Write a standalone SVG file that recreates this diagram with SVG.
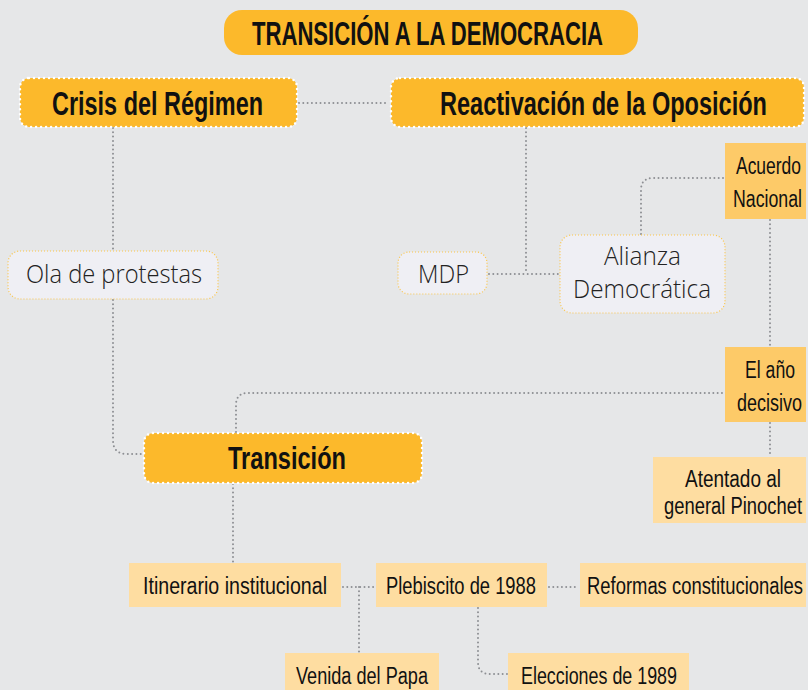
<svg xmlns="http://www.w3.org/2000/svg" width="808" height="690" viewBox="0 0 808 690">
<style>
.bg{fill:#e6e7e8}
.main{fill:#fcb92b;stroke:#ffffff;stroke-width:2.5;stroke-dasharray:0 5;stroke-linecap:round}
.title{fill:#fcb92b}
.soft{fill:#efeff4;stroke:#fcc649;stroke-width:1.2;stroke-dasharray:1 2}
.mid{fill:#fdca68}
.light{fill:#fedda1}
.con{fill:none;stroke:#8d8f93;stroke-width:2;stroke-dasharray:0 4.3;stroke-linecap:round}
.tb{font-family:"Liberation Sans Narrow","Liberation Sans",Arial,sans-serif;font-weight:bold;fill:#111}
.tn{font-family:"Liberation Sans Narrow","Liberation Sans",Arial,sans-serif;fill:#111}
.tl{font-family:"Open Sans","Liberation Sans",sans-serif;font-weight:300;fill:#222}
</style>
<rect class="bg" x="0" y="0" width="808" height="690"/>

<g id="connectors">
<path class="con" d="M299 103 H389"/>
<path class="con" d="M113 128 V250"/>
<path class="con" d="M113 300 V440 Q113 454 127 454 H143"/>
<path class="con" d="M526 128 V274"/>
<path class="con" d="M489 274 H558"/>
<path class="con" d="M723 178 H653 Q641 178 641 190 V234"/>
<path class="con" d="M770 220 V346"/>
<path class="con" d="M236 432 V405 Q236 393 248 393 H723"/>
<path class="con" d="M770 423 V456"/>
<path class="con" d="M233 484 V562"/>
<path class="con" d="M343 587 H374"/>
<path class="con" d="M359 587 V652"/>
<path class="con" d="M549 587 H579"/>
<path class="con" d="M478 608 V662 Q478 674 490 674 H507"/>
</g>

<g id="title">
<rect class="title" x="224" y="10" width="414" height="45" rx="18"/>
<text class="tb" x="252" y="45" font-size="33" textLength="351" lengthAdjust="spacingAndGlyphs">TRANSICIÓN A LA DEMOCRACIA</text>
</g>

<g id="crisis">
<rect class="main" x="20" y="78" width="277" height="49" rx="9"/>
<text class="tb" x="52" y="115" font-size="33" textLength="211" lengthAdjust="spacingAndGlyphs">Crisis del Régimen</text>
</g>

<g id="reactivacion">
<rect class="main" x="391" y="78" width="413" height="49" rx="9"/>
<text class="tb" x="440" y="115" font-size="33" textLength="327" lengthAdjust="spacingAndGlyphs">Reactivación de la Oposición</text>
</g>

<g id="ola">
<rect class="soft" x="8" y="251" width="210" height="48" rx="12"/>
<text class="tl" x="26" y="283" font-size="25" textLength="176" lengthAdjust="spacingAndGlyphs">Ola de protestas</text>
</g>

<g id="mdp">
<rect class="soft" x="398" y="252" width="89" height="42" rx="11"/>
<text class="tl" x="418" y="283" font-size="25" textLength="51" lengthAdjust="spacingAndGlyphs">MDP</text>
</g>

<g id="alianza">
<rect class="soft" x="560" y="235" width="165" height="78" rx="12"/>
<text class="tl" x="604" y="265" font-size="25" textLength="77" lengthAdjust="spacingAndGlyphs">Alianza</text>
<text class="tl" x="573" y="298" font-size="25" textLength="138" lengthAdjust="spacingAndGlyphs">Democrática</text>
</g>

<g id="acuerdo">
<rect class="mid" x="725" y="143" width="81" height="76"/>
<text class="tn" x="736" y="174" font-size="23" textLength="65" lengthAdjust="spacingAndGlyphs">Acuerdo</text>
<text class="tn" x="733" y="207" font-size="23" textLength="69" lengthAdjust="spacingAndGlyphs">Nacional</text>
</g>

<g id="elano">
<rect class="mid" x="725" y="347" width="81" height="75"/>
<text class="tn" x="745" y="378" font-size="23" textLength="50" lengthAdjust="spacingAndGlyphs">El año</text>
<text class="tn" x="737" y="411" font-size="23" textLength="65" lengthAdjust="spacingAndGlyphs">decisivo</text>
</g>

<g id="atentado">
<rect class="light" x="653" y="457" width="153" height="66"/>
<text class="tn" x="685" y="487" font-size="23" textLength="96" lengthAdjust="spacingAndGlyphs">Atentado al</text>
<text class="tn" x="664" y="514" font-size="23" textLength="138" lengthAdjust="spacingAndGlyphs">general Pinochet</text>
</g>

<g id="transicion">
<rect class="main" x="144" y="433" width="278" height="50" rx="9"/>
<text class="tb" x="228" y="469" font-size="32" textLength="118" lengthAdjust="spacingAndGlyphs">Transición</text>
</g>

<g id="itinerario">
<rect class="light" x="129" y="563" width="212" height="44"/>
<text class="tn" x="143" y="594" font-size="23" textLength="184" lengthAdjust="spacingAndGlyphs">Itinerario institucional</text>
</g>

<g id="plebiscito">
<rect class="light" x="376" y="563" width="171" height="44"/>
<text class="tn" x="386" y="594" font-size="23" textLength="150" lengthAdjust="spacingAndGlyphs">Plebiscito de 1988</text>
</g>

<g id="reformas">
<rect class="light" x="580" y="563" width="226" height="44"/>
<text class="tn" x="587" y="594" font-size="23" textLength="216" lengthAdjust="spacingAndGlyphs">Reformas constitucionales</text>
</g>

<g id="venida">
<rect class="light" x="285" y="653" width="154" height="37"/>
<text class="tn" x="296" y="684" font-size="23" textLength="132" lengthAdjust="spacingAndGlyphs">Venida del Papa</text>
</g>

<g id="elecciones">
<rect class="light" x="508" y="653" width="181" height="37"/>
<text class="tn" x="521" y="684" font-size="23" textLength="156" lengthAdjust="spacingAndGlyphs">Elecciones de 1989</text>
</g>
</svg>
